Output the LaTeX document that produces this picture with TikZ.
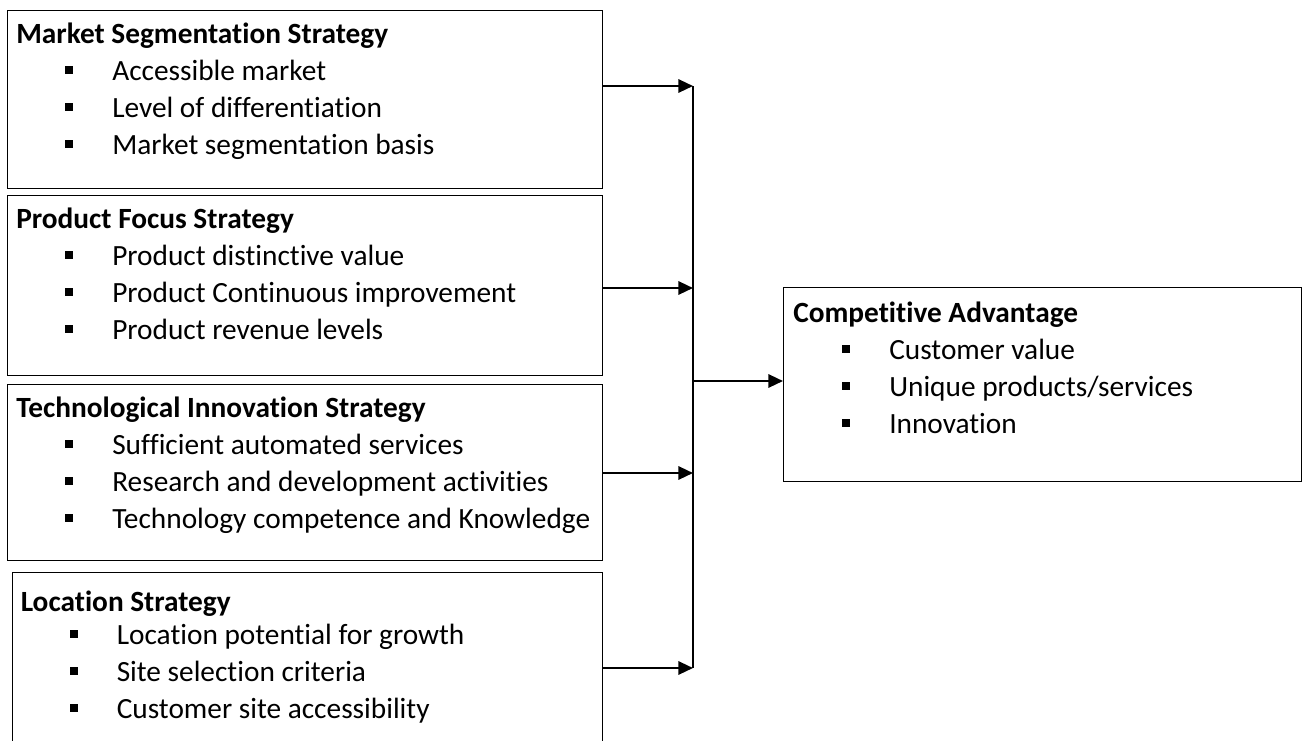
\documentclass[tikz,border=0pt]{standalone}
\usepackage{fontspec}
\setmainfont{Carlito}[Ligatures=NoCommon]
\usetikzlibrary{arrows.meta,positioning}

% square bullet with its indent, then the item text
\newcommand{\bul}[1]{\hspace*{36.75pt}\rule[4.5pt]{6pt}{6pt}\hspace*{29.25pt}#1}

\begin{document}
\begin{tikzpicture}[x=0.75pt, y=-0.75pt,
    stratbox/.style={draw, line width=0.75pt, rectangle, minimum width=446.25pt, inner sep=0pt},
    itemtxt/.style={anchor=base west, align=left, inner sep=0pt, font=\fontsize{22pt}{27.75pt}\selectfont},
    feed/.style={line width=1.7pt, -{Triangle[length=11pt 0, width=10pt 0]}}]
    \useasboundingbox (0,0) rectangle (1304,740);

    % strategy boxes on the left
    \node[stratbox, anchor=north west, minimum height=133.5pt] (mkt) at (7,10) {};
    \node[stratbox, below=4.5pt of mkt, minimum height=135pt] (prod) {};
    \node[stratbox, below=6pt of prod, minimum height=132pt] (tech) {};
    \node[stratbox, below=8.25pt of tech, xshift=1.5pt, minimum width=442.5pt, minimum height=150pt] (loc) {};

    % outcome box
    \node[stratbox, anchor=north west, minimum width=388.5pt, minimum height=145.5pt] (adv) at (783,287) {};

    % text blocks, anchored on the baseline of their last line
    \node[itemtxt] (mkt-t) at ([xshift=6.75pt, yshift=-108pt]mkt.north west)
        {\textbf{Market Segmentation Strategy}\\ \bul{Accessible market}\\ \bul{Level of differentiation}\\ \bul{Market segmentation basis}};
    \node[itemtxt] (prod-t) at ([xshift=6.75pt, yshift=-108pt]prod.north west)
        {\textbf{Product Focus Strategy}\\ \bul{Product distinctive value}\\ \bul{Product Continuous improvement}\\ \bul{Product revenue levels}};
    \node[itemtxt] (tech-t) at ([xshift=6.75pt, yshift=-108pt]tech.north west)
        {\textbf{Technological Innovation Strategy}\\ \bul{Sufficient automated services}\\ \bul{Research and development activities}\\ \bul{Technology competence and Knowledge}};
    \node[itemtxt] (loc-t) at ([xshift=6.75pt, yshift=-109.5pt]loc.north west)
        {\textbf{Location Strategy}\\[-3pt] \bul{Location potential for growth}\\ \bul{Site selection criteria}\\ \bul{Customer site accessibility}};
    \node[itemtxt] (adv-t) at ([xshift=7.5pt, yshift=-109.5pt]adv.north west)
        {\textbf{Competitive Advantage}\\ \bul{Customer value}\\ \bul{Unique products/services}\\ \bul{Innovation}};

    % joining bus
    \coordinate (j1) at (693,86);
    \coordinate (j2) at (693,288);
    \coordinate (jm) at (693,381);
    \coordinate (j3) at (693,473);
    \coordinate (j4) at (693,668);
    \draw[line width=1.2pt] (j1) -- (j4);

    \draw[feed] (mkt.east |- j1) -- (j1);
    \draw[feed] (prod.east |- j2) -- (j2);
    \draw[feed] (tech.east |- j3) -- (j3);
    \draw[feed] (loc.east |- j4) -- (j4);
    \draw[feed] (jm) -- (adv.west |- jm);
\end{tikzpicture}
\end{document}
